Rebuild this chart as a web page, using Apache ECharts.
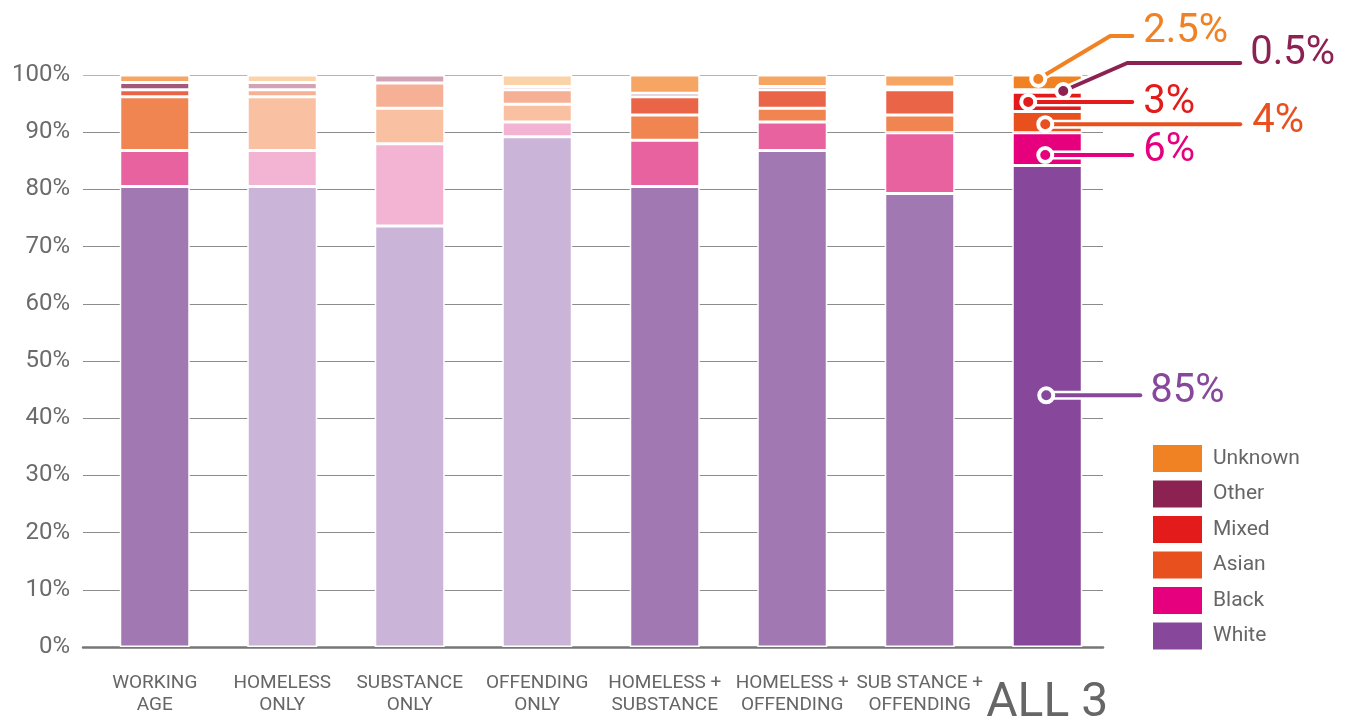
<!DOCTYPE html>
<html><head><meta charset="utf-8">
<script src="https://cdn.jsdelivr.net/npm/echarts@6/dist/echarts.min.js"></script>
<style>html,body{margin:0;padding:0;background:#fff}#chart{width:1351px;height:718px}</style>
</head><body><div id="chart"></div>
<script>
// ---- data ----
const categories = ['WORKING\nAGE','HOMELESS\nONLY','SUBSTANCE\nONLY','OFFENDING\nONLY','HOMELESS +\nSUBSTANCE','HOMELESS +\nOFFENDING','SUB STANCE +\nOFFENDING','ALL 3'];
const seriesNames = ['White','Black','Asian','Mixed','Other','Unknown'];
const white   = [80.5, 80.5, 73.6, 89.2, 80.5, 86.8, 79.3, 84.2];
const black   = [6.3, 6.3, 14.4, 2.6, 8.1, 5.0, 10.6, 5.7];
const asian   = [9.4, 9.4, 6.2, 3.1, 4.4, 2.4, 3.1, 3.7];
const mixed   = [1.2, 1.2, 4.4, 2.5, 3.2, 3.2, 4.4, 3.4];
const other   = [1.3, 1.3, 1.4, 0.6, 0.6, 0.6, 0.5, 0.4];
const unknown = [1.3, 1.3, 0, 2.0, 3.2, 2.0, 2.1, 2.6];
const yTickValues = [0,10,20,30,40,50,60,70,80,90,100];
const annoLabels = ['2.5%','0.5%','3%','4%','6%','85%'];
const annoSeries = ['Unknown','Other','Mixed','Asian','Black','White'];
const annoY = [99.3, 97.2, 95.3, 91.4, 86.0, 44.0];

// ---- styles ----
const palette = {
  full:  {White:'#87479A', Black:'#E6007E', Asian:'#E8501E', Mixed:'#E31B1B', Other:'#8B2252', Unknown:'#F08224'},
  mid:   {White:'#A278B3', Black:'#E962A0', Asian:'#F08552', Mixed:'#EA6448', Other:'#A35A7A', Unknown:'#F6A562'},
  light: {White:'#CAB5D9', Black:'#F3B3D3', Asian:'#F9C1A1', Mixed:'#F5B096', Other:'#D1A3B4', Unknown:'#FBD3A9'}
};
const shades = ['mid','light','light','light','mid','mid','mid','full'];
// pixel offsets of annotation leaders relative to the dot
const annoGeom = [
  {dx:-9,  path:[[72,-43],[94,-43]],  text:[105,-47]},
  {dx:16,  path:[[64,-28],[177,-28]], text:[187,-37]},
  {dx:-19, path:[[104,0]],            text:[115,1]},
  {dx:-2,  path:[[195,0]],            text:[207,-2]},
  {dx:-2,  path:[[87,0]],             text:[98,-4]},
  {dx:-1,  path:[[94,0]],             text:[104,-3]}
];
const FONT = 'Roboto, "Open Sans", sans-serif';
const gridColors = ['#8c8c8c','#8c8c8c','#8c8c8c','#8c8c8c','#8c8c8c','#8c8c8c','#8c8c8c','#8c8c8c','#8c8c8c','#8c8c8c','#b5b5b5'];

const dataBy = {White:white, Black:black, Asian:asian, Mixed:mixed, Other:other, Unknown:unknown};

const barSeries = seriesNames.map(name => ({
  name, type:'bar', stack:'total', barWidth:70, xAxisIndex:1, yAxisIndex:1,
  itemStyle:{color:palette.full[name], borderColor:'#fff', borderWidth:1.5},
  data: dataBy[name].map((v,i) => ({value:v, itemStyle:{color:palette[shades[i]][name]}})),
  emphasis:{disabled:true}
}));

const annoSeriesObj = {
  type:'custom', z:10, silent:true, xAxisIndex:1, yAxisIndex:1,
  data: annoY.map(v => [categories.length-1, v]),
  encode:{x:0, y:1},
  renderItem:function(params, api){
    const i = params.dataIndex;
    const g = annoGeom[i];
    const p = api.coord([api.value(0), api.value(1)]);
    const cx = p[0] + g.dx, cy = p[1];
    const col = palette.full[annoSeries[i]];
    const pts = [[cx,cy]].concat(g.path.map(q => [cx+q[0], cy+q[1]]));
    return {type:'group', children:[
      {type:'polyline', shape:{points:pts}, style:{stroke:'#fff', lineWidth:9, fill:null, lineCap:'round', lineJoin:'round'}},
      {type:'polyline', shape:{points:pts}, style:{stroke:col, lineWidth:4, fill:null, lineCap:'round', lineJoin:'round'}},
      {type:'circle', shape:{cx:cx, cy:cy, r:7}, style:{fill:col, stroke:'#fff', lineWidth:4}},
      {type:'text', style:{text:annoLabels[i], x:cx+g.text[0], y:cy+g.text[1], fill:col, fontSize:40, fontFamily:FONT, verticalAlign:'middle', align:'left'}}
    ]};
  }
};

const chart = echarts.init(document.getElementById('chart'), null, {renderer:'canvas'});
chart.setOption({
  backgroundColor:'#fff',
  animation:false,
  grid:[
    {left:83, top:75, width:1020, height:572, containLabel:false, outerBoundsMode:'none'},
    {left:91, top:75, width:1020, height:572, containLabel:false, outerBoundsMode:'none'}
  ],
  legend:{
    orient:'vertical', left:1153, top:445, padding:0, itemWidth:49, itemHeight:27, itemGap:8.5,
    icon:'rect', data:seriesNames.slice().reverse(),
    itemStyle:{borderWidth:0},
    textStyle:{fontSize:21, color:'#666', fontFamily:FONT, padding:[0,0,0,6]},
    selectedMode:false
  },
  xAxis:[
    {
      type:'category', gridIndex:0, data:categories,
      axisLine:{show:true, lineStyle:{color:'#777', width:2.5}},
      axisTick:{show:false}, axisLabel:{show:false}, splitLine:{show:false}
    },
    {
      type:'category', gridIndex:1, data:categories,
      axisLine:{show:false}, axisTick:{show:false}, splitLine:{show:false},
      axisLabel:{
        interval:0, fontSize:19, lineHeight:22, color:'#666', fontFamily:FONT, margin:25,
        formatter: v => v === 'ALL 3' ? '{big|ALL 3}' : v,
        rich:{big:{fontSize:48, lineHeight:64, color:'#666', fontFamily:FONT}}
      }
    }
  ],
  yAxis:[
    {
      type:'value', gridIndex:0, min:yTickValues[0], max:yTickValues[yTickValues.length-1], interval:10,
      axisLine:{show:false}, axisTick:{show:false},
      axisLabel:{formatter:'{value}%', fontSize:24, color:'#6b6b6b', fontFamily:FONT, margin:13},
      splitLine:{lineStyle:{color:gridColors, width:1}}
    },
    {
      type:'value', gridIndex:1, min:yTickValues[0], max:yTickValues[yTickValues.length-1], interval:10,
      axisLine:{show:false}, axisTick:{show:false}, axisLabel:{show:false}, splitLine:{show:false}
    }
  ],
  series: barSeries.concat([annoSeriesObj])
});
</script></body></html>
